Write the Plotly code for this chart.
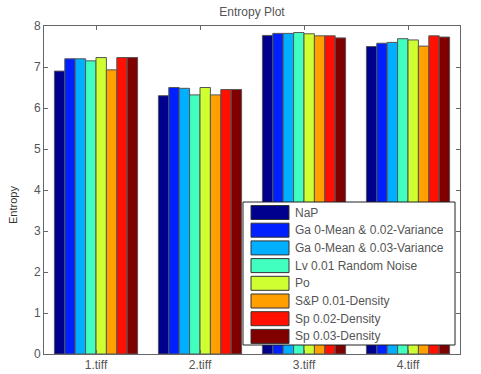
import plotly.graph_objects as go

categories = ["1.tiff", "2.tiff", "3.tiff", "4.tiff"]
series_names = [
    "NaP",
    "Ga 0-Mean & 0.02-Variance",
    "Ga 0-Mean & 0.03-Variance",
    "Lv 0.01 Random Noise",
    "Po",
    "S&P 0.01-Density",
    "Sp 0.02-Density",
    "Sp 0.03-Density",
]
nap = [6.90, 6.30, 7.77, 7.50]
ga002 = [7.20, 6.50, 7.82, 7.58]
ga003 = [7.20, 6.48, 7.82, 7.60]
lv001 = [7.15, 6.32, 7.84, 7.69]
po = [7.23, 6.50, 7.81, 7.66]
sp001 = [6.93, 6.32, 7.76, 7.51]
sp002 = [7.23, 6.45, 7.76, 7.76]
sp003 = [7.23, 6.45, 7.71, 7.73]
series_values = [nap, ga002, ga003, lv001, po, sp001, sp002, sp003]
colors = ["#00008F", "#0020FF", "#00AFFF", "#40FFBF", "#CFFF30", "#FF9F00", "#FF1000", "#800000"]
y_ticks = [0, 1, 2, 3, 4, 5, 6, 7, 8]

W, H = 481, 374
ML, MR, MT, MB = 44, 21, 26, 20
PW, PH = W - ML - MR, H - MT - MB

def px2paper_x(px):
    return (px - ML) / PW

def px2paper_y(py):
    return (H - MB - py) / PH

fig = go.Figure()
for name, vals, col in zip(series_names, series_values, colors):
    fig.add_trace(go.Bar(
        x=categories, y=vals, name=name,
        marker=dict(color=col, line=dict(color="#555555", width=1)),
    ))

font_family = "Liberation Sans, Arial, sans-serif"
axis_col = "#666666"

# custom legend (box + swatches + labels) to mimic large MATLAB swatches
shapes = []
annotations = []
box_l, box_r, box_t, box_b = 243, 455, 202, 345
shapes.append(dict(type="rect", xref="paper", yref="paper",
                   x0=px2paper_x(box_l), x1=px2paper_x(box_r),
                   y0=px2paper_y(box_b), y1=px2paper_y(box_t),
                   fillcolor="white", line=dict(color="#222222", width=1), layer="above"))
row0, step = 212.5, 17.7
for i, (name, col) in enumerate(zip(series_names, colors)):
    cy = row0 + i * step
    shapes.append(dict(type="rect", xref="paper", yref="paper",
                       x0=px2paper_x(251), x1=px2paper_x(289),
                       y0=px2paper_y(cy + 7), y1=px2paper_y(cy - 7),
                       fillcolor=col, line=dict(color="#333333", width=1), layer="above"))
    annotations.append(dict(xref="paper", yref="paper", x=px2paper_x(293), y=px2paper_y(cy),
                            xanchor="left", yanchor="middle", text=name, showarrow=False,
                            font=dict(size=12, color="#555555", family=font_family)))

annotations.append(dict(xref="paper", yref="paper", x=px2paper_x(13), y=px2paper_y(205),
                        xanchor="center", yanchor="middle", text="Entropy", textangle=-90,
                        showarrow=False, font=dict(size=11, color="#333333", family=font_family)))

fig.update_layout(
    width=W, height=H,
    margin=dict(l=ML, r=MR, t=MT, b=MB, autoexpand=False),
    barmode="group", bargap=0.2, bargroupgap=0,
    plot_bgcolor="white", paper_bgcolor="white",
    font=dict(family=font_family, size=12, color="#555555"),
    title=dict(text="Entropy Plot", x=252 / W, xanchor="center",
               y=1 - 8 / H, yanchor="top",
               font=dict(size=12, color="#555555")),
    showlegend=False,
    shapes=shapes,
    annotations=annotations,
    xaxis=dict(
        automargin=False,
        showline=True, linecolor=axis_col, mirror="ticks",
        ticks="inside", ticklen=4, tickcolor=axis_col,
        tickfont=dict(size=12, color="#555555"),
    ),
    yaxis=dict(
        automargin=False,
        range=[0, 8], tickvals=y_ticks, showgrid=False, zeroline=False,
        showline=True, linecolor=axis_col, mirror="ticks",
        ticks="inside", ticklen=4, tickcolor=axis_col,
        tickfont=dict(size=12, color="#555555"),
    ),
)

fig.write_html("out.html", config={"displayModeBar": False},
               post_script="document.body.style.margin='0';document.body.style.overflow='hidden';")
